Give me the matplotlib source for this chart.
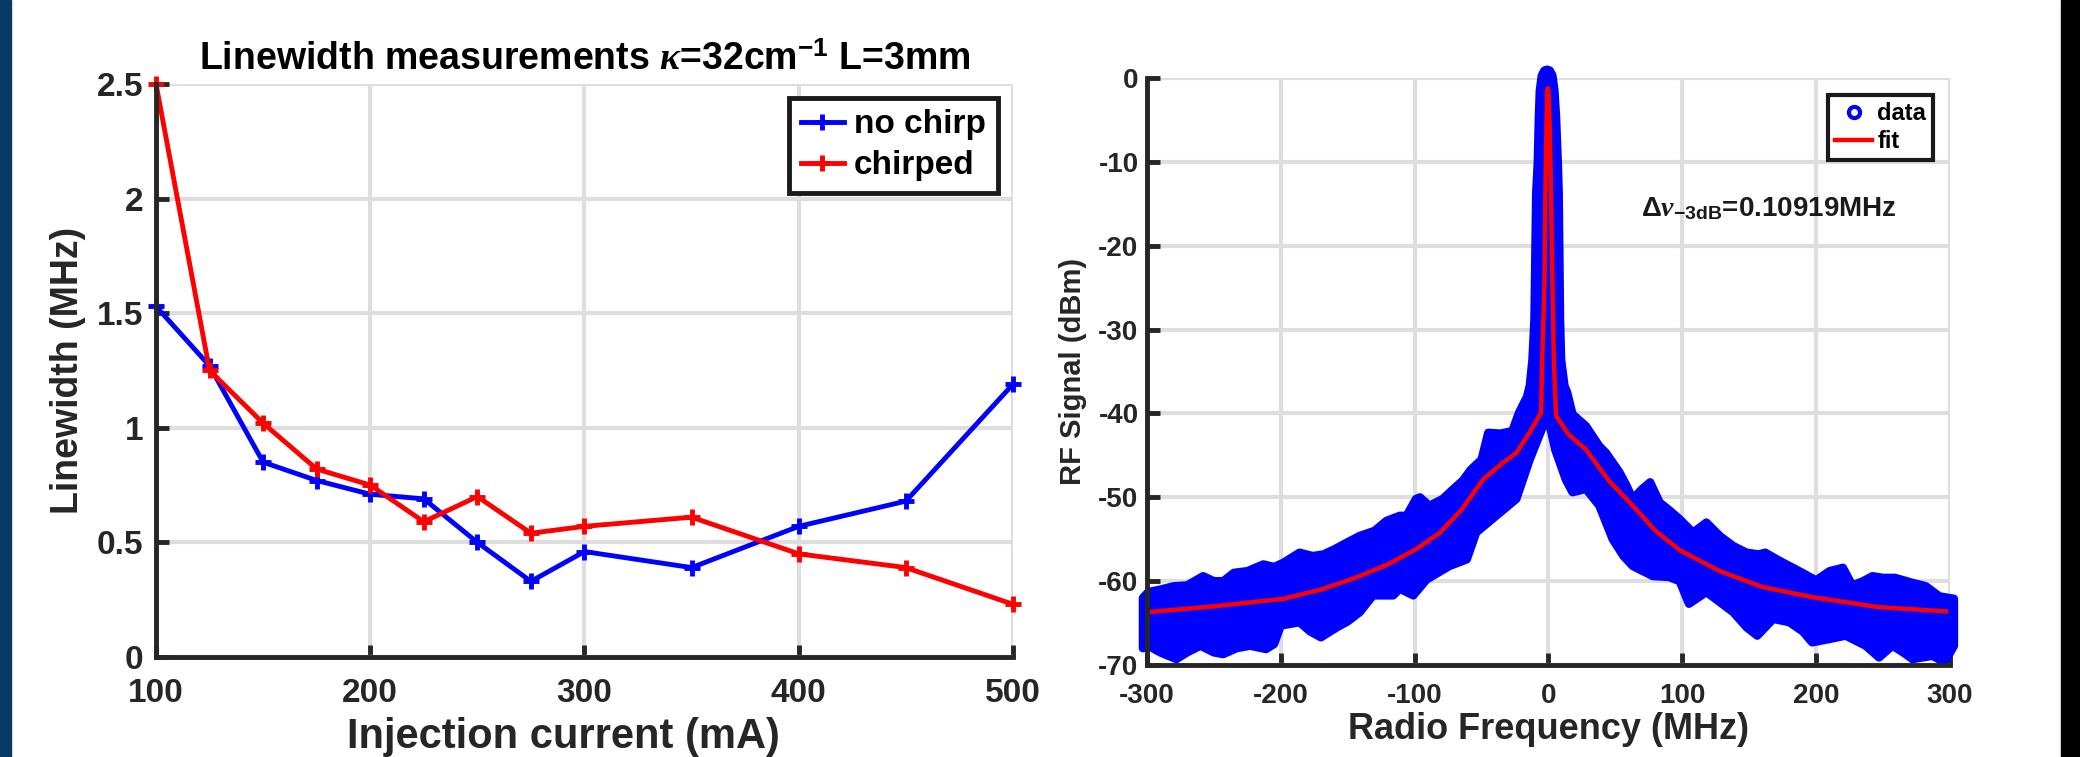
import numpy as np
import matplotlib
matplotlib.use("Agg")
import matplotlib.pyplot as plt
from matplotlib.patches import Rectangle

plt.rcParams['font.family'] = ['Liberation Sans', 'DejaVu Sans']
plt.rcParams['font.weight'] = 'bold'
plt.rcParams['axes.titleweight'] = 'bold'
plt.rcParams['axes.labelweight'] = 'bold'
plt.rcParams['axes.unicode_minus'] = False
plt.rcParams['mathtext.fontset'] = 'custom'
plt.rcParams['mathtext.rm'] = 'Liberation Sans:bold'
plt.rcParams['mathtext.bf'] = 'Liberation Sans:bold'
plt.rcParams['mathtext.it'] = 'Liberation Serif:italic'

# linewidth vs injection current
current = [100, 125, 150, 175, 200, 225, 250, 275, 300, 350, 400, 450, 500]
lw_nochirp = [1.53, 1.27, 0.85, 0.77, 0.71, 0.69, 0.50, 0.33, 0.46, 0.39, 0.57, 0.68, 1.19]
lw_chirped = [2.50, 1.25, 1.02, 0.82, 0.75, 0.59, 0.70, 0.54, 0.57, 0.61, 0.45, 0.39, 0.23]

up_f = [-303, -299, -290, -280, -270, -258, -250, -243, -235, -225, -213, -205, -198,
        -186, -176, -168, -160, -153, -141, -130, -121, -111, -106, -99, -96, -89, -79,
        -71, -64, -58, -50, -45, -36, -27, -22, -16, -14, -12, -10.5, -9.2, -8, -7.2,
        -6.5, -5, -3, -1, 1, 3, 4.5, 5.7, 7, 7.7, 8.7, 9.5, 12, 14, 18, 28, 38, 43, 53,
        58, 63, 70, 76, 83, 90, 98, 108, 118, 128, 138, 148, 157, 162, 173, 185, 200,
        210, 220, 227, 235, 242, 250, 259, 272, 282, 292, 303]
up_db = [-62.0, -61.3, -61.0, -60.6, -60.5, -59.4, -60.0, -60.0, -59.0, -58.8, -58.0,
         -58.3, -57.8, -56.6, -57.0, -56.8, -56.2, -55.6, -54.6, -54.0, -52.8, -52.2,
         -52.2, -50.2, -50.0, -51.0, -50.2, -49.0, -48.0, -46.7, -45.5, -42.3, -42.4,
         -42.1, -39.9, -38.0, -36.7, -33.6, -28.8, -13.7, -10.0, -4.6, -1.5, 0.3, 0.9,
         1.0, 0.9, 0.3, -1.5, -4.6, -10.0, -13.7, -28.8, -33.6, -36.7, -37.5, -40.1,
         -41.5, -43.9, -44.7, -47.0, -48.5, -50.2, -49.0, -48.2, -50.6, -51.5, -52.6,
         -54.2, -53.0, -54.6, -55.8, -56.6, -56.8, -56.6, -57.6, -58.6, -59.9, -58.8,
         -58.4, -60.5, -60.0, -59.4, -59.6, -59.6, -60.2, -60.6, -61.8, -62.1]
low_f = [-303, -299, -290, -278, -270, -260, -250, -243, -233, -223, -211, -205, -200,
         -186, -178, -170, -158, -150, -141, -131, -116, -111, -101, -91, -74, -61, -54,
         -45, -36, -24, -14, -4, 0, 5, 13, 18, 28, 38, 48, 56, 63, 78, 90, 98, 105, 118,
         128, 138, 148, 156, 168, 180, 190, 197, 210, 222, 237, 247, 257, 265, 272, 287,
         296, 303]
low_db = [-68.0, -67.7, -68.5, -69.3, -68.5, -67.7, -68.5, -68.7, -68.0, -67.7, -68.1,
          -67.5, -65.3, -64.9, -66.0, -66.7, -65.5, -64.8, -63.7, -61.7, -61.7, -60.9,
          -61.7, -59.8, -58.2, -57.4, -54.2, -53.0, -51.8, -50.2, -45.5, -41.5, -40.7,
          -44.3, -47.9, -49.4, -49.0, -51.0, -55.0, -57.0, -58.2, -59.4, -59.5, -60.0,
          -62.7, -61.3, -62.5, -63.7, -65.5, -66.5, -64.5, -64.9, -66.0, -67.3, -66.9,
          -66.5, -67.7, -69.1, -67.7, -68.5, -69.3, -68.9, -69.7, -67.7]

# Lorentzian fit curve
fit_f = [-300, -250, -198, -170, -146, -120, -99, -81, -65, -49, -35, -24, -15, -5.5,
         -4.7, -3, -2.3, -1.5, -1.0, -0.5, 0.0, 1.0, 1.9, 3, 4, 5.7, 15, 28, 45, 63, 80,
         98, 128, 160, 197, 247, 297]
fit_db = [-63.7, -63.0, -62.1, -61.0, -59.7, -58.0, -56.2, -54.2, -51.5, -47.9, -46.0,
          -44.7, -42.5, -39.9, -33.6, -24.8, -13.7, -5.8, -1.5, -1.2, -1.5, -5.8, -13.7,
          -24.8, -33.6, -40.3, -42.5, -44.3, -48.0, -51.0, -54.0, -56.3, -58.8, -60.7,
          -61.9, -63.1, -63.6]

ax_col = '#262626'
grid_col = '#dedede'

fig = plt.figure(figsize=(20.8, 7.57), dpi=100)
fig.patches.append(Rectangle((0, 0), 11/2080, 1, transform=fig.transFigure,
                             color='#083a68', zorder=0))
fig.patches.append(Rectangle((2061/2080, 0), 19/2080, 1, transform=fig.transFigure,
                             color='black', zorder=0))


def style(ax, tsize, xpad, ypad):
    for s in ['top', 'right']:
        ax.spines[s].set_visible(False)
    for s in ['left', 'bottom']:
        ax.spines[s].set_linewidth(3.5)
        ax.spines[s].set_color(ax_col)
        ax.spines[s].set_zorder(5)
    ax.grid(True, color=grid_col, linewidth=3, zorder=0)
    ax.set_axisbelow(True)
    ax.tick_params(direction='in', length=9, width=3.5, color=ax_col,
                   labelsize=tsize, labelcolor=ax_col)
    ax.tick_params(axis='x', pad=xpad)
    ax.tick_params(axis='y', pad=ypad)


# left panel
ax1 = fig.add_axes([0.075, 0.1321, 0.412, 0.757])
ax1.plot(current, lw_nochirp, color='blue', lw=3.5, marker='+', ms=11, mew=3.5,
         label='no chirp', clip_on=False, zorder=3)
ax1.plot(current, lw_chirped, color='red', lw=3.5, marker='+', ms=11, mew=3.5,
         label='chirped', clip_on=False, zorder=4)
ax1.set_xlim(100, 500)
ax1.set_ylim(0, 2.5)
ax1.set_xticks([100, 200, 300, 400, 500])
ax1.set_yticks([0, 0.5, 1, 1.5, 2, 2.5])
ax1.set_yticklabels(['0', '0.5', '1', '1.5', '2', '2.5'])
style(ax1, 24, 15, 9)
ax1.set_xlabel('Injection current (mA)', fontsize=30, color=ax_col, labelpad=4)
ax1.xaxis.set_label_coords(0.475, -0.105)
ax1.set_ylabel('Linewidth (MHz)', fontsize=27, color=ax_col, labelpad=8)
ax1.set_title(r'Linewidth measurements $\kappa$=32cm$^{\mathrm{-1}}$ L=3mm',
              fontsize=27, pad=10)
leg1 = ax1.legend(loc='upper right', bbox_to_anchor=(0.982, 0.976), borderaxespad=0,
                  fontsize=24, fancybox=False, framealpha=1, handlelength=1.3,
                  handletextpad=0.3, borderpad=0.35, labelspacing=0.3)
leg1.get_frame().set_edgecolor('#1a1a1a')
leg1.get_frame().set_linewidth(3.5)

# right panel
ax2 = fig.add_axes([0.5514, 0.1215, 0.3861, 0.7754])
poly_f = np.concatenate([up_f, low_f[::-1]])
poly_db = np.concatenate([up_db, low_db[::-1]])
ax2.fill(poly_f, poly_db, color='blue', ec='blue', lw=6, joinstyle='round',
         clip_on=False, zorder=2)
ax2.plot(fit_f, fit_db, color='red', lw=3.2, zorder=3, label='fit')
ax2.plot([], [], ls='none', marker='o', mfc='none', mec='blue', mew=3, ms=8,
         label='data')
ax2.set_xlim(-300, 300)
ax2.set_ylim(-70, 0)
ax2.set_xticks(range(-300, 301, 100))
ax2.set_yticks(range(-70, 1, 10))
style(ax2, 20, 13, 6)
ax2.set_xlabel('Radio Frequency (MHz)', fontsize=26, color=ax_col, labelpad=2)
ax2.set_ylabel('RF Signal (dBm)', fontsize=21, color=ax_col, labelpad=8)
h, l = ax2.get_legend_handles_labels()
leg2 = ax2.legend(h[::-1], l[::-1], loc='upper right', bbox_to_anchor=(0.979, 0.971),
                  borderaxespad=0, fontsize=17, fancybox=False, framealpha=1,
                  handlelength=1.6, handletextpad=0.2, borderpad=0.3,
                  labelspacing=0.2)
leg2.get_frame().set_edgecolor('#1a1a1a')
leg2.get_frame().set_linewidth(3)
ax2.text(69, -16.5, r'$\Delta\nu_{\mathrm{-3dB}}$=0.10919MHz', fontsize=20,
         va='baseline', ha='left', color='#1a1a1a')

fig.savefig('out.png', dpi=100)
